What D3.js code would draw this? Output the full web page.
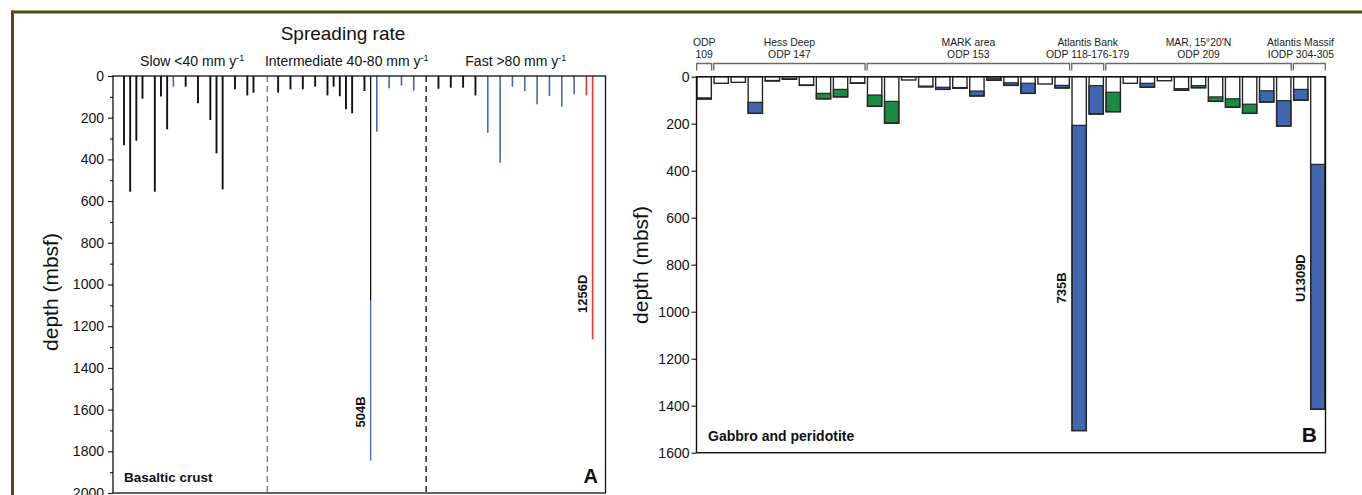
<!DOCTYPE html>
<html><head><meta charset="utf-8">
<script src="https://cdn.jsdelivr.net/npm/d3@7"></script>
<style>
html,body{margin:0;padding:0;background:#fff;}
svg{display:block;font-family:"Liberation Sans",Arial,Helvetica,sans-serif;}
</style></head><body>
<svg id="chart" width="1362" height="495"></svg>
<script>
// ---------------- Panel A data (basaltic crust holes) ----------------
const rateSections = ["Slow <40 mm y", "Intermediate 40-80 mm y", "Fast >80 mm y"];
const rateDividerSlots = [23.25, 49];
const holeSlotsA = [0,1,2,3,5,6,7,8,10,12,14,15,16,18,20,21,
                    25,27,29,31,33,34,35,36,37,39,40,41,43,45,47,
                    51,53,55,57,59,61,63,65,67,69,71,73,75,76];
const holeDepthsA = [332,555,310,109,555,98,256,51,51,131,211,371,544,64,93,80,
                     80,64,64,51,93,51,97,160,179,72,1845,267,59,46,69,
                     61,56,56,93,272,416,51,72,136,96,147,88,93,1263];
const holeTypesA = ["k","k","k","k","k","k","k","b","k","k","k","k","k","k","k","k",
                    "k","k","k","k","k","k","k","k","k","k","k","b","b","b","b",
                    "k","k","k","k","b","b","b","b","b","b","b","b","r","r"];
// slot of the hole whose lower part changes lithology (504B), split depth and lower type
const splitSlotsA = [40];
const splitDepthsA = [1078];
const splitTypesA = ["b"];
const labelSlotsA = [40, 76];
const labelTextA = ["504B", "1256D"];
const labelDepthA = [1611, 1045];
const yTicksA = d3.range(0, 2001, 200);
const yMinorA = d3.range(100, 2000, 200);

// ---------------- Panel B data (gabbro and peridotite holes) ----------------
const groupNames = [["ODP","109"],["Hess Deep","ODP 147"],["MARK area","ODP 153"],
                    ["Atlantis Bank","ODP 118-176-179"],["MAR, 15°20′N","ODP 209"],
                    ["Atlantis Massif","IODP 304-305"]];
const groupCounts = [1, 9, 12, 2, 11, 2];
const topDepthB = [90,28,24,109,16,9,35,71,54,26,78,105,14,40,45,46,61,6,26,28,31,37,207,38,66,28,28,17,51,38,86,94,117,60,102,54,373];
const totalDepthB = [95,28,24,156,18,11,37,94,86,28,126,198,14,43,54,49,82,15,37,71,31,48,1506,159,149,28,45,17,58,47,105,130,156,108,210,100,1415];
const lithB = ["G","W","W","B","G","G","G","G","G","G","G","G","W","B","B","B","B","B","B","B","W","B","B","B","G","W","B","W","G","G","G","G","G","B","B","B","B"];
const labelIdxB = [22, 36];
const labelTextB = ["735B", "U1309D"];
const labelDepthB = [899, 857];
const yTicksB = d3.range(0, 1601, 200);

// ---------------- drawing ----------------
const colors = {k:"#111111", b:"#4a66bb", r:"#e8362c", B:"#4166b0", G:"#1a8a44", W:"#ffffff"};
const svg = d3.select("#chart");

// outer brown frame
svg.append("rect").attr("x",11).attr("y",10.5).attr("width",1351).attr("height",3).attr("fill","#5b4613");
svg.append("rect").attr("x",11).attr("y",10.5).attr("width",3).attr("height",485).attr("fill","#5b4613");

// ===== Panel A =====
const A = {left:113, right:605.5, top:76, bottom:493};
const xA = d3.scaleLinear().domain([0, 76]).range([124, 592.6]);
const yA = d3.scaleLinear().domain([0, 2000]).range([A.top, A.bottom]);
const gA = svg.append("g");

// dividers
rateDividerSlots.forEach((s,i)=>{
  gA.append("line").attr("x1",xA(s)).attr("x2",xA(s)).attr("y1",A.top).attr("y2",A.bottom+2)
    .attr("stroke", i===0 ? "#7a7a7a" : "#111").attr("stroke-width",1.4).attr("stroke-dasharray","6,4");
});

// holes
holeSlotsA.forEach((s,i)=>{
  const x = xA(s);
  const si = splitSlotsA.indexOf(s);
  const w = holeTypesA[i]==="k" ? 1.9 : 1.6;
  if (si >= 0) {
    gA.append("line").attr("x1",x).attr("x2",x).attr("y1",yA(0)).attr("y2",yA(splitDepthsA[si]))
      .attr("stroke",colors[holeTypesA[i]]).attr("stroke-width",1.3);
    gA.append("line").attr("x1",x).attr("x2",x).attr("y1",yA(splitDepthsA[si])).attr("y2",yA(holeDepthsA[i]))
      .attr("stroke",colors[splitTypesA[si]]).attr("stroke-width",1.3);
  } else {
    gA.append("line").attr("x1",x).attr("x2",x).attr("y1",yA(0)).attr("y2",yA(holeDepthsA[i]))
      .attr("stroke",colors[holeTypesA[i]]).attr("stroke-width",w);
  }
});

// frame A
gA.append("rect").attr("x",A.left).attr("y",A.top).attr("width",A.right-A.left).attr("height",A.bottom-A.top)
  .attr("fill","none").attr("stroke","#111").attr("stroke-width",1.3);

// axes A
const axA = gA.append("g").attr("transform",`translate(${A.left},0)`)
  .call(d3.axisLeft(yA).tickValues(yTicksA).tickSize(5).tickPadding(4).tickFormat(d3.format("d")));
axA.select(".domain").remove();
axA.selectAll("text").attr("font-size",14).attr("font-family","Liberation Sans, Arial, sans-serif").attr("fill","#111");
axA.selectAll("line").attr("stroke","#111").attr("stroke-width",1.1);
const axAm = gA.append("g").attr("transform",`translate(${A.left},0)`)
  .call(d3.axisLeft(yA).tickValues(yMinorA).tickSize(3).tickFormat(""));
axAm.select(".domain").remove();
axAm.selectAll("line").attr("stroke","#111").attr("stroke-width",1.1);

gA.append("text").attr("transform",`translate(58,292) rotate(-90)`).attr("text-anchor","middle")
  .attr("font-size",21).attr("fill","#111").text("depth (mbsf)");

// headers
gA.append("text").attr("x",343).attr("y",40).attr("text-anchor","middle").attr("font-size",19).attr("fill","#111").text("Spreading rate");
const sectionBounds = [A.left, xA(rateDividerSlots[0]), xA(rateDividerSlots[1]), A.right];
rateSections.forEach((t,i)=>{
  const cx = (sectionBounds[i]+sectionBounds[i+1])/2 + (i===0 ? 2 : 0);
  const tx = gA.append("text").attr("x",cx).attr("y",66).attr("text-anchor","middle").attr("font-size",14).attr("fill","#111");
  tx.append("tspan").text(t);
  tx.append("tspan").attr("font-size",9).attr("dy",-5).text("-1");
});

// hole labels A
labelSlotsA.forEach((s,i)=>{
  gA.append("text").attr("transform",`translate(${xA(s)-6},${yA(labelDepthA[i])}) rotate(-90)`)
    .attr("text-anchor","middle").attr("font-size",13).attr("font-weight","bold").attr("fill","#111").text(labelTextA[i]);
});
gA.append("text").attr("x",124).attr("y",482).attr("font-size",13.5).attr("font-weight","bold").attr("fill","#111").text("Basaltic crust");
gA.append("text").attr("x",598).attr("y",483).attr("text-anchor","end").attr("font-size",20).attr("font-weight","bold").attr("fill","#111").text("A");

// ===== Panel B =====
const B = {left:696.5, right:1325.5, top:76.7, bottom:452.7};
const xB = d3.scaleBand().domain(d3.range(totalDepthB.length)).range([B.left, B.right]).paddingInner(0.16).paddingOuter(0.03);
const yB = d3.scaleLinear().domain([0, 1600]).range([B.top, B.bottom]);
const gB = svg.append("g");
const bw = xB.bandwidth();

totalDepthB.forEach((tot,i)=>{
  const x = xB(i);
  const top = lithB[i]==="W" ? tot : topDepthB[i];
  gB.append("rect").attr("x",x).attr("y",yB(0)).attr("width",bw).attr("height",yB(tot)-yB(0))
    .attr("fill","#fff").attr("stroke","none");
  if (lithB[i] !== "W") {
    gB.append("rect").attr("x",x).attr("y",yB(top)).attr("width",bw).attr("height",Math.max(0.5,yB(tot)-yB(top)))
      .attr("fill",colors[lithB[i]]).attr("stroke","#1e2a22").attr("stroke-width",1.2);
  }
  gB.append("rect").attr("x",x).attr("y",yB(0)).attr("width",bw).attr("height",yB(tot)-yB(0))
    .attr("fill","none").attr("stroke","#262626").attr("stroke-width",1.4);
});

// frame B
gB.append("rect").attr("x",B.left).attr("y",B.top).attr("width",B.right-B.left).attr("height",B.bottom-B.top)
  .attr("fill","none").attr("stroke","#111").attr("stroke-width",1.4);

const axB = gB.append("g").attr("transform",`translate(${B.left},0)`)
  .call(d3.axisLeft(yB).tickValues(yTicksB).tickSize(5).tickPadding(2).tickFormat(d3.format("d")));
axB.select(".domain").remove();
axB.selectAll("text").attr("font-size",14).attr("font-family","Liberation Sans, Arial, sans-serif").attr("fill","#111");
axB.selectAll("line").attr("stroke","#111").attr("stroke-width",1.1);

gB.append("text").attr("transform",`translate(648,265) rotate(-90)`).attr("text-anchor","middle")
  .attr("font-size",21).attr("fill","#111").text("depth (mbsf)");

// group brackets and labels
let start = 0;
groupCounts.forEach((n,gi)=>{
  const x1 = xB(start) - 0.3, x2 = xB(start+n-1) + bw + 0.3;
  gB.append("path").attr("d",`M${x1},70.5V63.5H${x2}V70.5`).attr("fill","none").attr("stroke","#6a6a6a").attr("stroke-width",1.3);
  const cx = (x1+x2)/2;
  groupNames[gi].forEach((t,li)=>{
    const tx = gB.append("text").attr("x",cx).attr("y",li===0?46:57.5).attr("text-anchor","middle")
      .attr("font-size",10.4).attr("fill","#222").text(t);
    const len = tx.node().getComputedTextLength();
    if (cx + len/2 > 1334) tx.attr("x",1334).attr("text-anchor","end");
  });
  start += n;
});

labelIdxB.forEach((idx,i)=>{
  gB.append("text").attr("transform",`translate(${xB(idx)-6},${yB(labelDepthB[i])}) rotate(-90)`)
    .attr("text-anchor","middle").attr("font-size",13).attr("font-weight","bold").attr("fill","#111").text(labelTextB[i]);
});
gB.append("text").attr("x",708).attr("y",441).attr("font-size",14).attr("font-weight","bold").attr("fill","#111").text("Gabbro and peridotite");
gB.append("text").attr("x",1317).attr("y",442).attr("text-anchor","end").attr("font-size",21).attr("font-weight","bold").attr("fill","#111").text("B");
</script>
</body></html>
